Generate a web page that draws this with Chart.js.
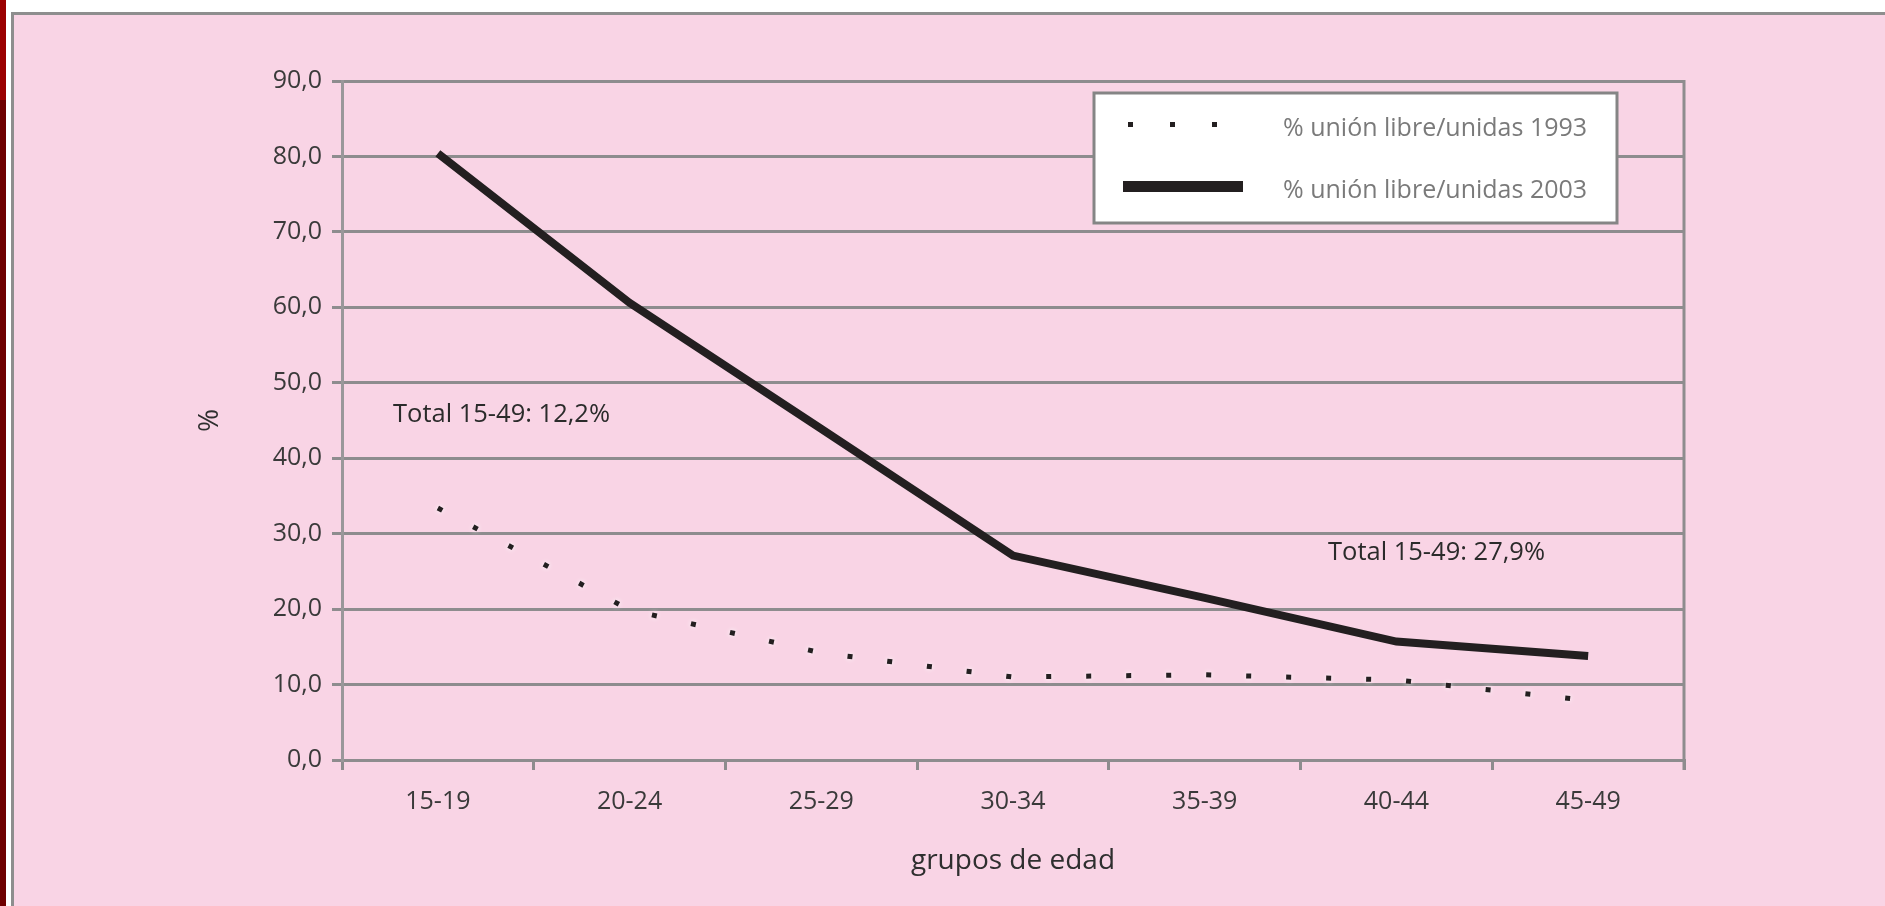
<!DOCTYPE html>
<html>
<head>
<meta charset="utf-8">
<script src="https://cdn.jsdelivr.net/npm/chart.js@4.4.1/dist/chart.umd.min.js"></script>
<style>
  html, body { margin: 0; padding: 0; background: #ffffff; }
  #wrap { position: relative; width: 1885px; height: 906px; }
  canvas { display: block; }
</style>
</head>
<body>
<div id="wrap"><canvas id="c" width="1885" height="906"></canvas></div>
<script>
// ---- data ----
const categories = ['15-19', '20-24', '25-29', '30-34', '35-39', '40-44', '45-49'];
const series1993 = [33.4, 19.9, 14.2, 11.0, 11.3, 10.6, 7.9];
const series2003 = [80.4, 60.6, 43.9, 27.1, 21.5, 15.7, 13.8];
const seriesLabels = ['% unión libre/unidas 1993', '% unión libre/unidas 2003'];
const annotationTexts = ['Total 15-49: 12,2%', 'Total 15-49: 27,9%'];
const yTitle = '%';
const xTitle = 'grupos de edad';

const FONT = "'Open Sans', 'DejaVu Sans', sans-serif";
const GRID = '#8e8c8e';
const INK = '#231f20';

const bgPlugin = {
  id: 'bg',
  beforeDraw(chart) {
    const ctx = chart.ctx, W = chart.width, H = chart.height;
    ctx.save();
    ctx.fillStyle = '#ffffff'; ctx.fillRect(0, 0, W, H);
    ctx.fillStyle = '#f9d4e5'; ctx.fillRect(14, 15, W - 14, H - 15);
    ctx.fillStyle = '#8e8e8e';
    ctx.fillRect(11, 12, W - 11, 3);
    ctx.fillRect(11, 12, 3, H - 12);
    ctx.fillStyle = '#9b0000'; ctx.fillRect(0, 0, 6, 100);
    ctx.fillStyle = '#6f0000'; ctx.fillRect(0, 100, 6, H - 100);
    ctx.restore();
  },
  beforeDatasetsDraw(chart) {
    const ctx = chart.ctx, ca = chart.chartArea;
    ctx.save();
    ctx.strokeStyle = GRID; ctx.lineWidth = 3;
    ctx.beginPath();
    ctx.moveTo(ca.right, ca.top - 1);
    ctx.lineTo(ca.right, ca.bottom + 10);
    ctx.stroke();
    ctx.restore();
  },
  beforeDatasetDraw(chart, args) {
    if (args.index === 0) {
      chart.ctx.shadowColor = 'rgba(255,255,255,1)';
      chart.ctx.shadowBlur = 5;
    }
  },
  afterDatasetDraw(chart, args) {
    if (args.index === 0) {
      chart.ctx.shadowColor = 'rgba(0,0,0,0)';
      chart.ctx.shadowBlur = 0;
    }
  },
  afterDraw(chart) {
    const ctx = chart.ctx, ca = chart.chartArea;
    ctx.save();
    // annotations
    ctx.font = '25.5px ' + FONT;
    ctx.fillStyle = '#2b2b2b';
    ctx.textAlign = 'left';
    ctx.textBaseline = 'middle';
    ctx.fillText(annotationTexts[0], ca.left + 51, ca.top + 334);
    ctx.fillText(annotationTexts[1], ca.left + 986, ca.top + 472);

    // legend box
    const bx = ca.left + 752, by = ca.top + 12, bw = 523, bh = 130;
    ctx.fillStyle = '#ffffff';
    ctx.fillRect(bx, by, bw, bh);
    ctx.strokeStyle = '#858585';
    ctx.lineWidth = 3;
    ctx.strokeRect(bx, by, bw, bh);
    const ds = chart.data.datasets;
    const rowY = [by + 36, by + 98];
    // symbol 1: dots
    ctx.fillStyle = ds[0].borderColor;
    [36, 78, 120].forEach(dx => ctx.fillRect(bx + dx - 2, rowY[0] - 7, 5, 5));
    // symbol 2: thick bar
    ctx.fillStyle = ds[1].borderColor;
    ctx.fillRect(bx + 29, rowY[1] - 10, 120, 11);
    ctx.font = '25px ' + FONT;
    ctx.fillStyle = '#7a7a7a';
    ctx.fillText(ds[0].label, bx + 189, rowY[0]);
    ctx.fillText(ds[1].label, bx + 189, rowY[1]);
    ctx.restore();
  }
};

new Chart(document.getElementById('c'), {
  type: 'line',
  data: {
    labels: categories,
    datasets: [
      {
        label: seriesLabels[0],
        data: series1993,
        borderColor: INK,
        borderWidth: 5,
        borderDash: [5, 35],
        borderCapStyle: 'butt',
        pointRadius: 0,
        tension: 0,
        fill: false
      },
      {
        label: seriesLabels[1],
        data: series2003,
        borderColor: INK,
        borderWidth: 8,
        pointRadius: 0,
        tension: 0,
        fill: false,
        borderJoinStyle: 'miter'
      }
    ]
  },
  options: {
    responsive: false,
    animation: false,
    devicePixelRatio: 1,
    layout: { padding: { left: 190, top: 81, right: 201, bottom: 28 } },
    plugins: {
      legend: { display: false },
      tooltip: { enabled: false }
    },
    scales: {
      x: {
        type: 'category',
        offset: true,
        afterFit(scale) { scale.height = 118; },
        grid: {
          offset: true,
          drawOnChartArea: false,
          drawTicks: true,
          tickLength: 10,
          color: GRID,
          lineWidth: 3
        },
        border: { display: true, color: GRID, width: 3 },
        ticks: {
          font: { family: FONT, size: 25 },
          color: '#3a3a3a',
          padding: 17,
          maxRotation: 0
        },
        title: {
          display: true,
          text: xTitle,
          font: { family: FONT, size: 28 },
          color: '#2f2f2f',
          padding: { top: 0, bottom: 0 }
        }
      },
      y: {
        min: 0,
        max: 90,
        afterFit(scale) { scale.width = 152; },
        grid: {
          color: GRID,
          lineWidth: 3,
          drawTicks: true,
          tickLength: 10
        },
        border: { display: true, color: '#9a979a', width: 3 },
        ticks: {
          stepSize: 10,
          font: { family: FONT, size: 25 },
          color: '#3a3a3a',
          padding: 10,
          callback: v => Number(v).toFixed(1).replace('.', ',')
        },
        title: {
          display: true,
          text: yTitle,
          font: { family: FONT, size: 28 },
          color: '#2f2f2f',
          padding: { top: 3, bottom: 0 }
        }
      }
    }
  },
  plugins: [bgPlugin]
});
</script>
</body>
</html>
